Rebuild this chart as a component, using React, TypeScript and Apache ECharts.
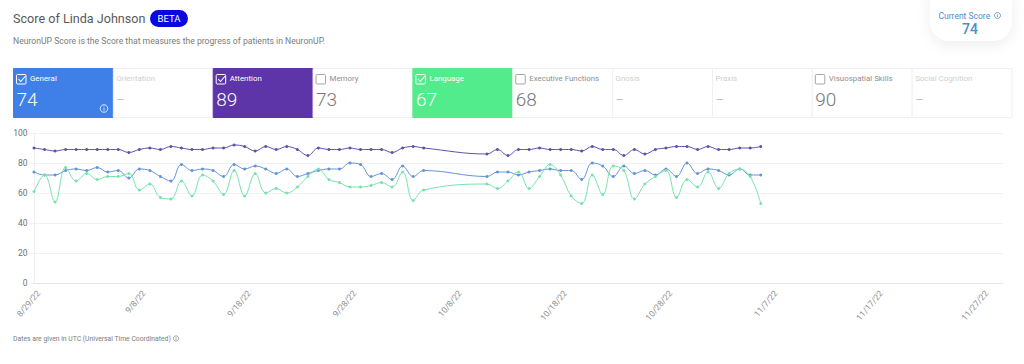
import React, { useEffect, useRef } from "react";
import * as echarts from "echarts";

const general = [74,72,72,75,76,75,77,74,75,70,76,75,71,68,79,75,76,75,71,79,76,78,76,73,76,71,73,75,76,76,80,79,71,73,69,78,71,75,null,null,null,null,null,71,74,74,72,74,75,76,75,75,69,80,78,71,78,73,75,72,76,71,80,73,76,75,72,76,72,72];
const attention = [90,89,88,89,89,89,89,89,89,87,89,90,89,91,90,89,89,90,90,92,91,88,91,89,91,89,85,90,89,89,90,89,89,89,87,90,91,90,null,null,null,null,null,86,89,85,89,89,90,89,89,89,88,91,89,89,85,89,86,89,90,91,91,89,91,89,89,90,90,91];
const language = [61,72,54,77,68,73,69,71,71,73,62,66,57,56,68,58,72,68,59,75,58,73,60,63,60,64,71,76,69,67,64,64,65,67,64,74,55,62,null,null,null,null,null,66,63,68,74,63,71,79,72,58,53,72,59,78,75,56,66,71,75,57,69,64,74,63,73,76,71,53];
const yTicks = [0, 20, 40, 60, 80, 100];
const cardNames = ["General","Orientation","Attention","Memory","Language","Executive Functions","Gnosis","Praxis","Visuospatial Skills","Social Cognition"];
const cardValues = ["74","–","89","73","67","68","–","–","90","–"];
const cardFills = ["#3f7fe8","","#5e35a8","","#52ec8c","","","","",""];
const cardChecked = [true,null,true,false,true,false,null,null,false,null];
const seriesNames = ["Attention","General","Language"];
const seriesColors = ["#5f51a8","#6394d8","#78e2ac"];
const START = Date.UTC(2022, 7, 29);
const DAY_COUNT = 93;
const days = Array.from({ length: DAY_COUNT }, (_, i) => {
  const d = new Date(START + i * 86400000);
  return `${d.getUTCMonth() + 1}/${d.getUTCDate()}/${String(d.getUTCFullYear()).slice(2)}`;
});
const FONT = "Roboto, 'Open Sans', sans-serif";

function infoIcon(x: number, y: number, r: number, color: string) {
  return [
    { type: "circle", shape: { cx: x, cy: y, r }, style: { fill: "none", stroke: color, lineWidth: 0.8 } },
    { type: "line", shape: { x1: x, y1: y - r * 0.1, x2: x, y2: y + r * 0.55 }, style: { stroke: color, lineWidth: 0.8 } },
    { type: "line", shape: { x1: x, y1: y - r * 0.55, x2: x, y2: y - r * 0.3 }, style: { stroke: color, lineWidth: 0.8 } },
  ];
}

function buildGraphics() {
  const els: any[] = [];
  const x0 = 13, cw = 99.85, y0 = 68, ch = 49;
  cardNames.forEach((name, i) => {
    const x = x0 + i * cw;
    const fill = cardFills[i];
    const checked = cardChecked[i];
    const inactive = checked === null;
    els.push({ type: "rect", shape: { x: x + 0.5, y: y0 + 0.5, width: cw, height: ch }, style: { fill: fill || "#fff", stroke: fill || "#f0f0f0", lineWidth: 1 } });
    const textX = checked === null ? x + 3.5 : x + 17;
    const labelColor = fill ? "#fff" : inactive ? "#cfcfcf" : "#8f8f8f";
    if (checked !== null) {
      const sc = fill ? "#fff" : "#a5a5a5";
      els.push({ type: "rect", shape: { x: x + 3.5, y: y0 + 6.5, width: 9.5, height: 9.5, r: 1 }, style: { fill: "none", stroke: sc, lineWidth: 1 } });
      if (checked) {
        els.push({ type: "polyline", shape: { points: [[x + 5.5, y0 + 11], [x + 7.8, y0 + 13.5], [x + 12.5, y0 + 8]] }, style: { fill: "none", stroke: "#fff", lineWidth: 1.1 } });
      }
    }
    els.push({ type: "text", style: { x: textX, y: y0 + 10.5, text: name, font: `7.9px ${FONT}`, fill: labelColor, verticalAlign: "middle" } });
    const isDash = cardValues[i] === "–";
    els.push({ type: "text", style: { x: x + 3.5, y: y0 + 31.5, text: cardValues[i], font: `300 ${isDash ? 13 : 19}px ${FONT}`, fill: fill ? "#fff" : isDash ? "#aaa" : "#777", verticalAlign: "middle" } });
  });
  els.push(...infoIcon(104, 108.5, 3.8, "#ffffff"));

  els.push({ type: "text", style: { x: 13, y: 18, text: "Score of Linda Johnson", font: `12.6px ${FONT}`, fill: "#5a5a5a", verticalAlign: "middle" } });
  els.push({ type: "rect", shape: { x: 150, y: 10, width: 38, height: 17, r: 8.5 }, style: { fill: "#0808e0" } });
  els.push({ type: "text", style: { x: 169, y: 18.5, text: "BETA", font: `9.5px ${FONT}`, fill: "#fff", align: "center", verticalAlign: "middle" } });
  els.push({ type: "text", style: { x: 13, y: 41, text: "NeuronUP Score is the Score that measures the progress of patients in NeuronUP.", font: `8.63px ${FONT}`, fill: "#7c7c7c", verticalAlign: "middle" } });

  els.push({ type: "rect", shape: { x: 930, y: -20, width: 82, height: 61, r: 20 }, style: { fill: "#fff", shadowBlur: 14, shadowColor: "rgba(0,0,0,0.07)", shadowOffsetY: 4 } });
  els.push({ type: "text", style: { x: 938.5, y: 15.5, text: "Current Score", font: `8.5px ${FONT}`, fill: "#4a90c8", verticalAlign: "middle" } });
  els.push(...infoIcon(997.5, 15.5, 3, "#4a90c8"));
  els.push({ type: "text", style: { x: 970, y: 29, text: "74", font: `500 14px ${FONT}`, fill: "#4a90c8", align: "center", verticalAlign: "middle" } });

  els.push({ type: "text", style: { x: 13, y: 338.5, text: "Dates are given in UTC (Universal Time Coordinated)", font: `6.8px ${FONT}`, fill: "#7c7c7c", verticalAlign: "middle" } });
  els.push(...infoIcon(176, 338.5, 2.6, "#8a8a8a"));
  return els;
}

export default function App() {
  const ref = useRef<HTMLDivElement>(null);
  useEffect(() => {
    document.body.style.margin = "0";
    const chart = echarts.init(ref.current!, null, { renderer: "svg" });
    const dataSets = [attention, general, language];
    chart.setOption({
      animation: false,
      backgroundColor: "#fff",
      textStyle: { fontFamily: FONT },
      grid: { left: 34, right: 21, top: 133, bottom: 81, containLabel: false },
      xAxis: {
        type: "category",
        data: days,
        boundaryGap: false,
        axisLine: { lineStyle: { color: "#e6e6e6" } },
        axisTick: { show: false },
        splitLine: { show: false },
        axisLabel: { interval: 9, rotate: 50, fontSize: 8.6, color: "#8f8f8f", margin: 14, padding: [0, -7, 0, 0], hideOverlap: false },
      },
      yAxis: {
        type: "value",
        min: yTicks[0],
        max: yTicks[yTicks.length - 1],
        interval: 20,
        axisLine: { show: true, lineStyle: { color: "#f0f0f0" } },
        axisTick: { show: true, length: 5, lineStyle: { color: "#f0f0f0" } },
        splitLine: { lineStyle: { color: "#f2f2f2" } },
        axisLabel: { fontSize: 8.5, color: "#707070", margin: 6.5 },
      },
      series: seriesNames.map((name, i) => ({
        name,
        type: "line",
        data: dataSets[i],
        connectNulls: true,
        smooth: 0.4,
        symbol: "circle",
        symbolSize: 3,
        lineStyle: { width: 1, color: seriesColors[i] },
        itemStyle: { color: seriesColors[i] },
      })),
      graphic: { elements: buildGraphics() },
    });
    return () => chart.dispose();
  }, []);
  return <div ref={ref} style={{ width: 1024, height: 364 }} />;
}
